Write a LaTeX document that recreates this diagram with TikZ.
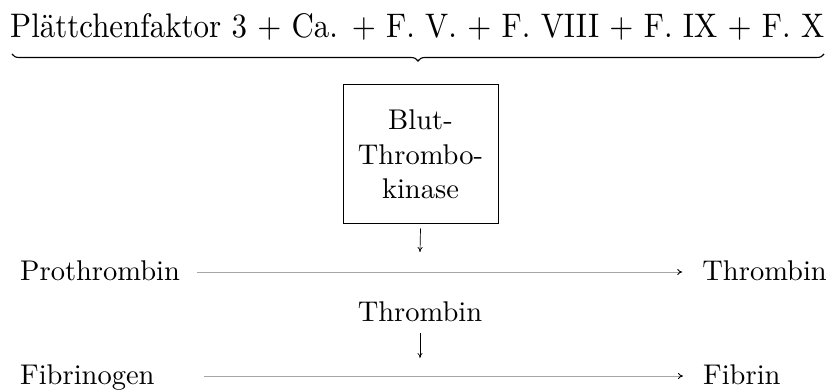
\documentclass[tikz,border=0pt]{standalone}
\usepackage{fontspec}
\setmainfont{lmroman10-regular}[Extension=.otf]
\usetikzlibrary{decorations.pathreplacing,arrows.meta}
\begin{document}
\begin{tikzpicture}[x=1pt,y=-1pt,
  txt/.style={font=\fontsize{28.5}{34.5}\selectfont, inner sep=0pt, anchor=base},
  flow/.style={draw=black!35, line width=0.9pt, -{To[length=5pt,width=6pt,color=black]}},
  down/.style={draw=black, line width=0.7pt, -{To[length=5pt,width=5pt]}}]
\useasboundingbox (0,0) rectangle (830,390);
\node[txt, anchor=base west] (top) at (10,38)
  {\resizebox{814pt}{24pt}{Plättchenfaktor 3 + Ca. + F. V. + F. VIII + F. IX + F. X}};
\coordinate (bl) at (12,54);
\coordinate (br) at (824,54);
\draw[line width=1.1pt, decoration={brace, mirror, amplitude=7pt}, decorate] (bl) -- (br);
\node[draw, line width=1pt, minimum width=155pt, minimum height=139pt, inner sep=0pt,
      align=center, font=\fontsize{28.5}{34.5}\selectfont] (box) at (420.5,154.5)
  {Blut-\\Thrombo-\\kinase};
\coordinate (a1) at (420,252);
\draw[down] (box.south) ++(0,4) -- (a1);
\node[txt, anchor=base west] (pro) at (20,280) {Prothrombin};
\node[txt, anchor=base east] (thr) at (827,280) {Thrombin};
\draw[flow] ([xshift=17pt,yshift=8pt]pro.base east) -- ([xshift=-20pt,yshift=8pt]thr.base west);
\node[txt] (thm) at (420,321) {Thrombin};
\coordinate (a2) at (420,358);
\draw[down] ([yshift=25pt]a2) -- (a2);
\node[txt, anchor=base west] (fib) at (20,384) {Fibrinogen};
\node[txt, anchor=base west] (fin) at (703,384) {Fibrin};
\draw[flow] ([xshift=49pt,yshift=8pt]fib.base east) -- ([xshift=-20pt,yshift=8pt]fin.base west);
\end{tikzpicture}
\end{document}
